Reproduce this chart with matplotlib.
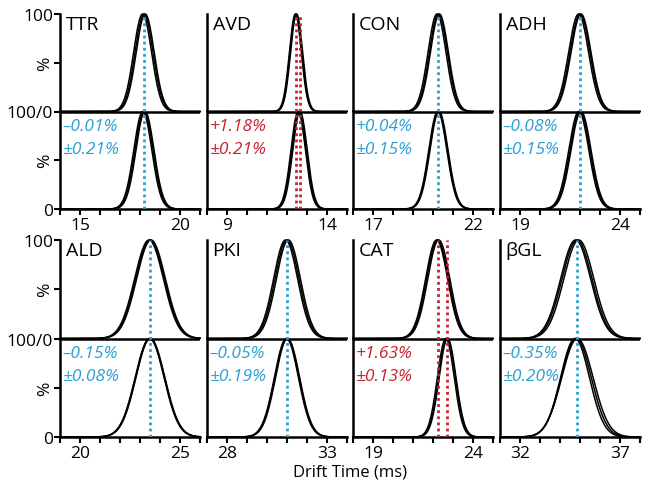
import numpy as np
import matplotlib
matplotlib.use("Agg")
import matplotlib.pyplot as plt

plt.rcParams['font.family'] = ['Open Sans', 'DejaVu Sans']

# ---- data ----
names = ['TTR', 'AVD', 'CON', 'ADH', 'ALD', 'PKI', 'CAT', 'βGL']
x_start = [14, 8, 16, 18, 19, 27, 18, 31]          # axis range start (ms)
x_labels = [(15, 20), (9, 14), (17, 22), (19, 24),
            (20, 25), (28, 33), (19, 24), (32, 37)]
top_center = [18.2, 12.45, 20.27, 22.0, 23.5, 31.0, 22.23, 34.85]
bot_center = [18.2, 12.65, 20.27, 22.0, 23.5, 31.0, 22.70, 34.75]
top_sigma = [0.45, 0.30, 0.45, 0.50, 0.72, 0.60, 0.55, 0.75]
bot_sigma = [0.45, 0.36, 0.45, 0.50, 0.72, 0.60, 0.42, 0.72]
top_rep_shift = [[-0.07, 0.0, 0.06], [-0.03, 0.0, 0.03], [-0.07, 0.0, 0.05],
                 [-0.07, 0.0, 0.05], [-0.05, 0.0, 0.05], [-0.07, 0.0, 0.07],
                 [-0.05, 0.0, 0.06], [-0.07, 0.0, 0.09]]
bot_rep_shift = [[-0.06, 0.0, 0.05], [-0.09, -0.05, 0.0], [-0.03, 0.0, 0.03],
                 [-0.06, 0.0, 0.05], [-0.02, 0.0, 0.02], [-0.03, 0.0, 0.03],
                 [-0.06, 0.0, 0.03], [0.0, 0.06, 0.12]]
bot_rep_widen = [[0, 0, 0], [0, 0, 0], [0, 0, 0], [0, 0, 0],
                 [0, 0, 0], [0, 0, 0], [0, 0, 0], [0.0, 0.03, 0.06]]
shift_txt = ['–0.01%', '+1.18%', '+0.04%', '–0.08%',
             '–0.15%', '–0.05%', '+1.63%', '–0.35%']
err_txt = ['±0.21%', '±0.21%', '±0.15%', '±0.15%',
           '±0.08%', '±0.19%', '±0.13%', '±0.20%']
significant = [False, True, False, False, False, False, True, False]

BLUE = '#2b9fd4'
RED = '#c8202f'

fig = plt.figure(figsize=(6.48, 4.89), dpi=100)
W, H = 648.0, 489.0
col_left = [60, 207, 353, 500]
col_w = 140
rows = [(15, 210), (241, 438)]

for i, name in enumerate(names):
    r, c = divmod(i, 4)
    top_px, bot_px = rows[r]
    ax = fig.add_axes([col_left[c] / W, 1 - bot_px / H, col_w / W, (bot_px - top_px) / H])
    x0 = x_start[i]
    ax.set_xlim(x0, x0 + 7)
    ax.set_ylim(0, 200)
    x = np.linspace(x0, x0 + 7, 800)
    for s in top_rep_shift[i]:
        y = 100 + 100 * np.exp(-0.5 * ((x - top_center[i] - s) / top_sigma[i]) ** 2)
        ax.plot(x, y, color='black', lw=1.1, clip_on=False, zorder=3)
    for s, wd in zip(bot_rep_shift[i], bot_rep_widen[i]):
        y = 100 * np.exp(-0.5 * ((x - bot_center[i] - s) / (bot_sigma[i] + wd)) ** 2)
        ax.plot(x, y, color='black', lw=1.1, clip_on=False, zorder=3)
    ax.axhline(100, color='black', lw=1.8, zorder=4)

    col = RED if significant[i] else BLUE
    ax.axvline(top_center[i], color=col, ls=(0, (1, 1.2)), lw=2, zorder=5)
    if significant[i]:
        ax.axvline(bot_center[i], color=col, ls=(0, (1, 1.2)), lw=2, zorder=5)

    ax.text(0.04, 0.995, name, transform=ax.transAxes, ha='left', va='top',
            fontsize=14)
    ax.text(0.02, 85, shift_txt[i], transform=ax.get_yaxis_transform(),
            ha='left', va='center', fontsize=12.5, style='italic', color=col)
    ax.text(0.02, 62, err_txt[i], transform=ax.get_yaxis_transform(),
            ha='left', va='center', fontsize=12.5, style='italic', color=col)

    for sp in ('top', 'right'):
        ax.spines[sp].set_visible(False)
    for sp in ('left', 'bottom'):
        ax.spines[sp].set_linewidth(1.8)
    ticks = list(range(x0, x0 + 8))
    ax.set_xticks(ticks)
    ax.set_xticklabels([str(t) if t in x_labels[i] else '' for t in ticks],
                       fontsize=12.5)
    ax.tick_params(axis='x', direction='out', length=4, width=1.5, pad=1.5)
    if c == 0:
        ax.set_yticks([0, 50, 100, 150, 200])
        ax.set_yticklabels(['0', '%', '100/0', '%', '100'], fontsize=12.5)
        for lbl in ax.get_yticklabels():
            if lbl.get_text() == '%':
                lbl.set_rotation(90)
                lbl.set_va('center')
        ax.tick_params(axis='y', direction='out', length=4, width=1.5, pad=1)
    else:
        ax.set_yticks([])

fig.text(350 / W, 1 - 473 / H, 'Drift Time (ms)', ha='center', va='center',
         fontsize=12)

fig.savefig('out.png', dpi=100)
